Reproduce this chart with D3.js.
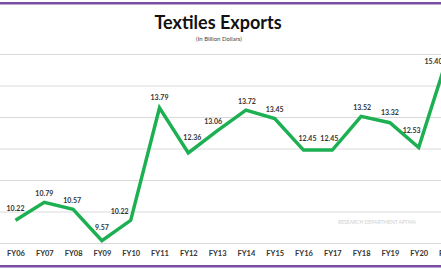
<!DOCTYPE html>
<html>
<head>
<meta charset="utf-8">
<script src="https://cdn.jsdelivr.net/npm/d3@7"></script>
<style>
  body { margin: 0; background: #fff; }
  svg { display: block; font-family: Lato, "Open Sans", sans-serif; }
</style>
</head>
<body>
<div id="chart"></div>
<script>
// fiscal years and exports (billion dollars)
const years = ["FY06","FY07","FY08","FY09","FY10","FY11","FY12","FY13","FY14","FY15","FY16","FY17","FY18","FY19","FY20","FY21"];
const exportsBn = [10.22,10.79,10.57,9.57,10.22,13.79,12.36,13.06,13.72,13.45,12.45,12.45,13.52,13.32,12.53,15.40];
const gridTicks = [9.5,10.5,11.5,12.5,13.5,14.5,15.5];

// label nudges (dx, dy) relative to the point
const labelNudge = [[0,-12],[0,-9],[-1,-9],[0,-13],[-11,-9],[0,-10],[4,-15],[-4,-9],[1,-9],[0,-9],[4,-12],[-3,-12],[1,-9],[0,-10],[-7,-17],[-14,4]];

const W = 441, H = 269;
const svg = d3.select("#chart").append("svg")
  .attr("width", W).attr("height", H);

// purple border lines
svg.append("rect").attr("x", 0).attr("y", 2).attr("width", W).attr("height", 2.5).attr("fill", "#7a4ea6");
svg.append("rect").attr("x", 0).attr("y", 265).attr("width", W).attr("height", 2.5).attr("fill", "#7a4ea6");

svg.append("text")
  .attr("x", 218).attr("y", 29)
  .attr("text-anchor", "middle")
  .attr("font-size", 18).attr("font-weight", "bold").attr("fill", "#111")
  .text("Textiles Exports");

svg.append("text")
  .attr("x", 219).attr("y", 41)
  .attr("text-anchor", "middle")
  .attr("font-size", 6).attr("fill", "#444")
  .text("(In Billion Dollars)");

const x = d3.scalePoint().domain(years).range([15.5, 447.5]);
const y = d3.scaleLinear().domain([9.5, 15.5]).range([243, 54]);

// gridlines
svg.append("g")
  .attr("transform", "translate(0,0)")
  .call(d3.axisLeft(y).tickValues(gridTicks).tickSize(-W).tickFormat(""))
  .call(g => g.select(".domain").remove())
  .call(g => g.selectAll(".tick line").attr("stroke", "#d9d9d9").attr("stroke-width", 1));

// x axis labels
svg.append("g")
  .attr("transform", "translate(0,243)")
  .call(d3.axisBottom(x).tickSize(0).tickPadding(8))
  .call(g => g.select(".domain").remove())
  .call(g => g.selectAll("text")
    .attr("font-family", "Lato, sans-serif")
    .attr("font-size", 7.5).attr("font-weight", "bold").attr("fill", "#333"));

// watermark
svg.append("text")
  .attr("x", 377).attr("y", 224)
  .attr("text-anchor", "middle")
  .attr("font-size", 5).attr("fill", "#cfcfcf")
  .text("RESEARCH DEPARTMENT APTMA");

const data = years.map((yr, i) => ({ yr, v: exportsBn[i], n: labelNudge[i] }));

svg.append("path")
  .datum(data)
  .attr("fill", "none")
  .attr("stroke", "#1db052")
  .attr("stroke-width", 3.5)
  .attr("stroke-linejoin", "miter")
  .attr("d", d3.line().x(d => x(d.yr)).y(d => y(d.v)));

svg.selectAll(".lbl")
  .data(data)
  .enter().append("text")
  .attr("class", "lbl")
  .attr("x", d => x(d.yr) + d.n[0])
  .attr("y", d => y(d.v) + d.n[1] + 2.5)
  .attr("text-anchor", "middle")
  .attr("font-size", 7).attr("font-weight", "bold").attr("fill", "#333")
  .text(d => d.v.toFixed(2));
</script>
</body>
</html>
